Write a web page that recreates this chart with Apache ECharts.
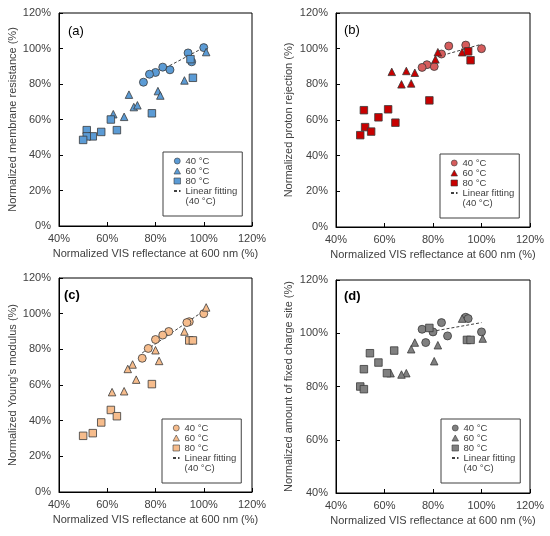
<!DOCTYPE html>
<html>
<head>
<meta charset="utf-8">
<script src="https://cdn.jsdelivr.net/npm/echarts@6/dist/echarts.min.js"></script>
<style>
html,body{margin:0;padding:0;background:#fff;}
#chart{width:550px;height:536px;}
</style>
</head>
<body>
<div id="chart"></div>
<script>
// ---- Data (x: normalized VIS reflectance at 600 nm, y: normalized property), %
const xTicks = [40, 60, 80, 100, 120];

// (a) membrane resistance
const a40 = [[100,100.5],[93.5,97.5],[95,92.5],[83,89.5],[86,88],[80,86.5],[77.5,85.5],[75,81]];
const a60 = [[101,98],[92,82],[69,74],[81,76],[82,73.5],[71,67],[72.5,68],[62.5,63],[67,61.5]];
const a80 = [[94.5,94],[95.5,83.5],[78.5,63.5],[61.5,60],[64,54],[57.5,53],[51.5,54],[54,50.5],[51.5,50.5],[50,48.5]];
const aFit = [[84,89],[100,100.5]];

// (b) proton rejection
const b40 = [[100,100],[93.5,102],[86.5,101.5],[83.5,97],[80.5,90],[77.5,91],[75.5,89.5]];
const b60 = [[92,98],[82,98],[81,94],[63,87],[69,87.5],[72.5,86.5],[67,80],[71,80.5]];
const b80 = [[94.5,98.5],[95.5,93.5],[78.5,71],[51.5,65.5],[61.5,66],[57.5,61.5],[64.5,58.5],[52,56],[54.5,53.5],[50,51.5]];
const bFit = [[82,95.5],[100,102.5]];

// (c) Young's modulus
const c40 = [[100,100],[94,95.5],[93,95],[85.5,90],[83,88],[80,85.5],[77,80.5],[74.5,75]];
const c60 = [[101,103.5],[92,90],[80,79.5],[81.5,73.5],[70.5,71.5],[68.5,69],[72,63],[62,56],[67,56.5]];
const c80 = [[94,85],[95.5,85],[78.5,60.5],[61.5,46],[64,42.5],[57.5,39],[54,33],[50,31.5]];
const cFit = [[74.5,78],[100.5,102]];

// (d) fixed charge site
const d40 = [[100,100.5],[93.5,106],[94.5,105.5],[83.5,104],[86,99],[80,100.5],[77,96.5],[75.5,101.5]];
const d60 = [[92,105.5],[100.5,98],[72.5,96.5],[71,94],[82,95.5],[80.5,89.5],[62.5,85],[69,85],[67,84.5]];
const d80 = [[78.5,102],[94,97.5],[95.5,97.5],[54,92.5],[64,93.5],[57.5,89],[61,85],[51.5,86.5],[50,80],[51.5,79]];
const dFit = [[81.5,101],[100,104]];

const yMins = [0, 0, 0, 40];
const yNames = [
  'Normalized membrane resistance (%)',
  'Normalized proton rejection (%)',
  'Normalized Young\u2019s modulus (%)',
  'Normalized amount of fixed charge site (%)'
];
const xName = 'Normalized VIS reflectance at 600 nm (%)';
const panelLabels = ['(a)', '(b)', '(c)', '(d)'];
const legendLabels = ['40 \u00B0C', '60 \u00B0C', '80 \u00B0C', 'Linear fitting', '(40 \u00B0C)'];

// ---- Styling / layout
const FONT = '"Liberation Sans", Arial, Helvetica, sans-serif';
const TXT = '#404040';
const panels = [
  {key:'a', d40:a40, d60:a60, d80:a80, fit:aFit, c40:'#5B9BD5', c60:'#5B9BD5', c80:'#5B9BD5',
   grid:{left:59, top:13, width:193, height:213}, yGap:40, lab:[68,33,'normal'], leg:[163,152]},
  {key:'b', d40:b40, d60:b60, d80:b80, fit:bFit, c40:'#D65C5C', c60:'#C80000', c80:'#C80000',
   grid:{left:336, top:13, width:194, height:214}, yGap:42, lab:[344,32,'normal'], leg:[440,154]},
  {key:'c', d40:c40, d60:c60, d80:c80, fit:cFit, c40:'#F6BC8C', c60:'#F6BC8C', c80:'#F6BC8C',
   grid:{left:59, top:278, width:193, height:214}, yGap:40, lab:[64,297,'bold'], leg:[162,419]},
  {key:'d', d40:d40, d60:d60, d80:d80, fit:dFit, c40:'#808080', c60:'#808080', c80:'#808080',
   grid:{left:336, top:280, width:194, height:213}, yGap:42, lab:[344,298,'bold'], leg:[441,419]}
];

const grids = [], xAxes = [], yAxes = [], series = [], legends = [], graphics = [];
const labelMap = {};

panels.forEach((p, i) => {
  grids.push(Object.assign({show:true, borderColor:'#000', borderWidth:1, backgroundColor:'transparent'}, p.grid));
  xAxes.push({
    type:'value', gridIndex:i, min:xTicks[0], max:xTicks[xTicks.length-1], interval:20,
    name:xName, nameLocation:'middle', nameGap:22,
    nameTextStyle:{fontFamily:FONT, fontSize:11, color:TXT},
    axisLine:{show:true, lineStyle:{color:'#000', width:1}},
    axisTick:{show:true, inside:true, length:4, lineStyle:{color:'#000'}},
    axisLabel:{fontFamily:FONT, fontSize:11, color:TXT, margin:7, formatter:'{value}%'},
    splitLine:{show:false}
  });
  yAxes.push({
    type:'value', gridIndex:i, min:yMins[i], max:120, interval:20,
    name:yNames[i], nameLocation:'middle', nameGap:p.yGap, nameRotate:90,
    nameTextStyle:{fontFamily:FONT, fontSize:11, color:TXT},
    axisLine:{show:true, lineStyle:{color:'#000', width:1}},
    axisTick:{show:true, inside:true, length:4, lineStyle:{color:'#000'}},
    axisLabel:{fontFamily:FONT, fontSize:11, color:TXT, margin:8, formatter:'{value}%'},
    splitLine:{show:false}
  });
  const border = {borderColor:'#3a3a3a', borderWidth:0.8};
  const k = p.key;
  labelMap[k+'40'] = legendLabels[0];
  labelMap[k+'60'] = legendLabels[1];
  labelMap[k+'80'] = legendLabels[2];
  labelMap[k+'fit'] = legendLabels[3];
  labelMap[k+'fit2'] = legendLabels[4];
  series.push({
    name:k+'fit', type:'line', xAxisIndex:i, yAxisIndex:i, data:p.fit, symbol:'none', z:1,
    itemStyle:{color:'rgba(0,0,0,0)', borderWidth:0},
    lineStyle:{color:'#404040', width:1, type:[3,2]}, silent:true, animation:false
  });
  series.push({
    name:k+'fit2', type:'line', xAxisIndex:i, yAxisIndex:i, data:[], symbol:'none',
    itemStyle:{color:'rgba(0,0,0,0)'}, lineStyle:{width:0}, animation:false
  });
  series.push({name:k+'40', type:'scatter', xAxisIndex:i, yAxisIndex:i, data:p.d40, symbol:'circle', symbolSize:8, z:2,
    itemStyle:Object.assign({color:p.c40, opacity:1}, border), animation:false});
  series.push({name:k+'60', type:'scatter', xAxisIndex:i, yAxisIndex:i, data:p.d60, symbol:'triangle', symbolSize:7.5, z:3,
    itemStyle:Object.assign({color:p.c60, opacity:1}, border), animation:false});
  series.push({name:k+'80', type:'scatter', xAxisIndex:i, yAxisIndex:i, data:p.d80, symbol:'rect', symbolSize:7.5, z:4,
    itemStyle:Object.assign({color:p.c80, opacity:1}, border), animation:false});

  legends.push({
    data:[k+'40', k+'60', k+'80', k+'fit', {name:k+'fit2', icon:'none'}],
    left:p.leg[0], top:p.leg[1], orient:'vertical',
    itemWidth:6.5, itemHeight:6, itemGap:0,
    padding:[4, 5, 10, 10],
    backgroundColor:'#fff', borderColor:'#404040', borderWidth:1,
    selectedMode:false,
    itemStyle:{borderWidth:0.6},
    textStyle:{fontFamily:FONT, fontSize:9.5, lineHeight:9.4, color:TXT},
    formatter:(name) => labelMap[name]
  });
  graphics.push({
    type:'text', left:p.lab[0], top:p.lab[1]-8, z:10,
    style:{text:panelLabels[i], font:p.lab[2] + ' 13px ' + FONT, fill:'#000'}
  });
});

const chart = echarts.init(document.getElementById('chart'), null, {renderer:'canvas'});
chart.setOption({
  animation:false,
  backgroundColor:'#fff',
  grid:grids, xAxis:xAxes, yAxis:yAxes, series:series, legend:legends, graphic:graphics
});
</script>
</body>
</html>
